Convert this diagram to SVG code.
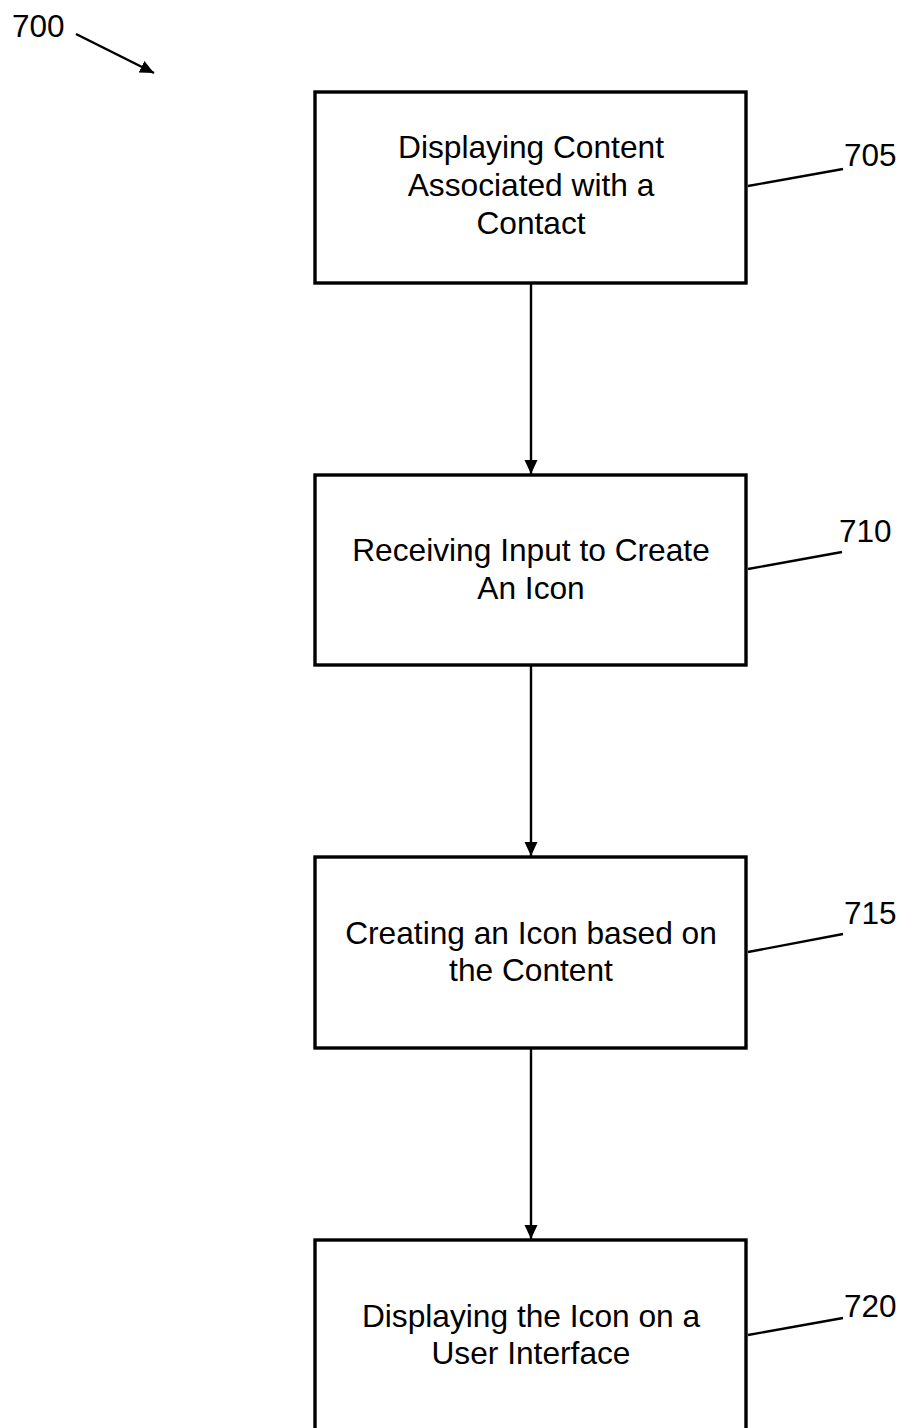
<svg xmlns="http://www.w3.org/2000/svg" width="903" height="1428" viewBox="0 0 903 1428">
<style>
.box{fill:#fff;stroke:#000;stroke-width:3.4}
.t{font-family:"Liberation Sans",Arial,sans-serif;font-size:31.7px;fill:#000;text-anchor:middle}
.r{font-family:"Liberation Sans",Arial,sans-serif;font-size:31.5px;fill:#000}
.c{stroke:#000;stroke-width:2.4;fill:none}
.l{stroke:#000;stroke-width:2.4;fill:none}
</style>
<defs>
<marker id="ah" markerUnits="userSpaceOnUse" markerWidth="16" markerHeight="14" refX="14" refY="6.5" orient="auto">
<path d="M0,0 L14,6.5 L0,13 Z" fill="#000"/>
</marker>
</defs>
<rect width="903" height="1428" fill="#fff"/>
<g id="label700">
<text class="r" x="12" y="37">700</text>
<line class="l" x1="76" y1="34" x2="154" y2="73" marker-end="url(#ah)"/>
</g>
<g id="connectors">
<line class="c" x1="531" y1="284" x2="531" y2="474" marker-end="url(#ah)"/>
<line class="c" x1="531" y1="666" x2="531" y2="856" marker-end="url(#ah)"/>
<line class="c" x1="531" y1="1049" x2="531" y2="1239" marker-end="url(#ah)"/>
</g>
<g id="n705">
<rect class="box" x="315" y="92" width="431" height="191"/>
<text class="t" x="531" y="158">Displaying Content</text>
<text class="t" x="531" y="196">Associated with a</text>
<text class="t" x="531" y="234">Contact</text>
<line class="l" x1="748" y1="186" x2="843" y2="169"/>
<text class="r" x="844" y="166">705</text>
</g>
<g id="n710">
<rect class="box" x="315" y="475" width="431" height="190"/>
<text class="t" x="531" y="561">Receiving Input to Create</text>
<text class="t" x="531" y="599">An Icon</text>
<line class="l" x1="748" y1="569" x2="842" y2="552"/>
<text class="r" x="839" y="542">710</text>
</g>
<g id="n715">
<rect class="box" x="315" y="857" width="431" height="191"/>
<text class="t" x="531" y="944">Creating an Icon based on</text>
<text class="t" x="531" y="981">the Content</text>
<line class="l" x1="748" y1="952" x2="843" y2="934"/>
<text class="r" x="844" y="924">715</text>
</g>
<g id="n720">
<rect class="box" x="315" y="1240" width="431" height="220"/>
<text class="t" x="531" y="1327">Displaying the Icon on a</text>
<text class="t" x="531" y="1364">User Interface</text>
<line class="l" x1="748" y1="1335" x2="843" y2="1318"/>
<text class="r" x="844" y="1317">720</text>
</g>
</svg>
